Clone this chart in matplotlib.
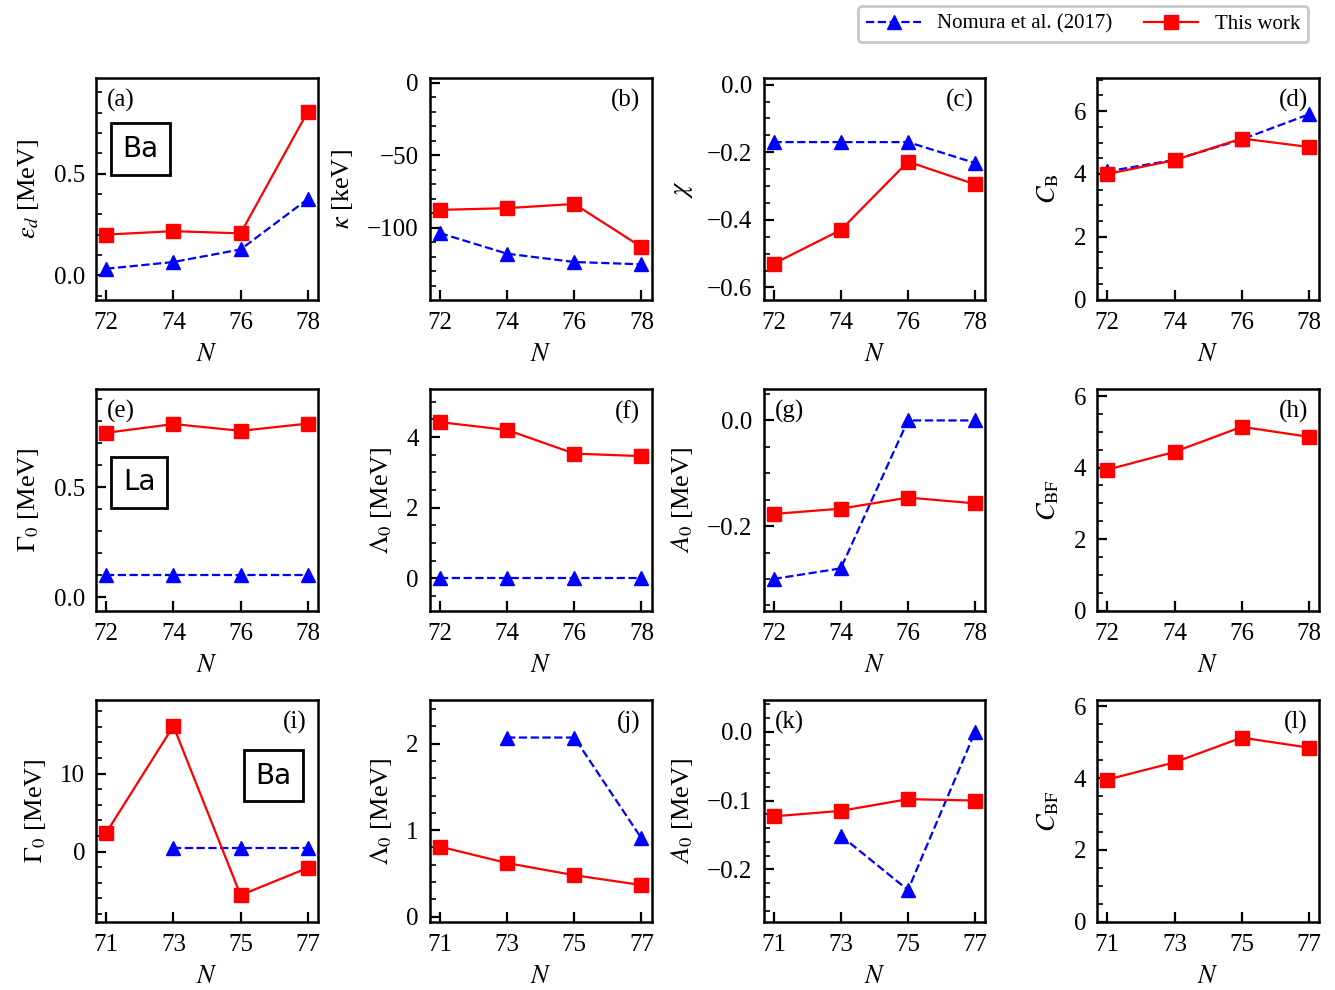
import matplotlib
matplotlib.use("Agg")
import matplotlib.pyplot as plt
import numpy as np
from matplotlib.ticker import AutoMinorLocator

plt.rcParams['font.family'] = ['Liberation Serif', 'DejaVu Serif']
plt.rcParams['mathtext.fontset'] = 'stix'
plt.rcParams['font.size'] = 18

#---------------- data
N_even = [72, 74, 76, 78]
N_odd = [71, 73, 75, 77]
nan = np.nan

eps_this = [0.20, 0.217, 0.206, 0.805]
eps_nom = [0.032, 0.065, 0.127, 0.375]
kap_this = [-87.7, -86.5, -83.6, -113.3]
kap_nom = [-103.7, -117.9, -123.6, -125.2]
chi_this = [-0.53, -0.43, -0.228, -0.295]
chi_nom = [-0.17, -0.17, -0.17, -0.232]
cb_this = [4.0, 4.44, 5.13, 4.86]
cb_nom = [4.08, 4.45, 5.1, 5.9]

gam_la_this = [0.748, 0.788, 0.757, 0.79]
gam_la_nom = [0.1, 0.1, 0.1, 0.1]
lam_la_this = [4.42, 4.20, 3.53, 3.46]
lam_la_nom = [0.0, 0.0, 0.0, 0.0]
a_la_this = [-0.177, -0.167, -0.146, -0.157]
a_la_nom = [-0.30, -0.28, 0.0, 0.0]
cbf_la_this = [3.94, 4.44, 5.14, 4.86]

gam_ba_this = [2.4, 16.1, -5.6, -2.1]
gam_ba_nom = [nan, 0.5, 0.5, 0.5]
lam_ba_this = [0.81, 0.62, 0.48, 0.366]
lam_ba_nom = [nan, 2.07, 2.07, 0.906]
a_ba_this = [-0.123, -0.115, -0.098, -0.100]
a_ba_nom = [nan, -0.151, -0.23, 0.0]
cbf_ba_this = [3.96, 4.44, 5.13, 4.85]

panels = [
    (N_even, eps_this, eps_nom, r'$\epsilon_d$ [MeV]', '(a)', 'l', (-0.12, 0.97)),
    (N_even, kap_this, kap_nom, r'$\kappa$ [keV]', '(b)', 'r', (-149.5, 3)),
    (N_even, chi_this, chi_nom, r'$\chi$', '(c)', 'r', (-0.636, 0.019)),
    (N_even, cb_this, cb_nom, r'$C_\mathrm{B}$', '(d)', 'r', (0, 7.05)),
    (N_even, gam_la_this, gam_la_nom, r'$\Gamma_0$ [MeV]', '(e)', 'l', (-0.06, 0.946)),
    (N_even, lam_la_this, lam_la_nom, r'$\mathit{\Lambda}_0$ [MeV]', '(f)', 'r', (-0.91, 5.35)),
    (N_even, a_la_this, a_la_nom, r'$A_0$ [MeV]', '(g)', 'l', (-0.36, 0.059)),
    (N_even, cbf_la_this, None, r'$C_\mathrm{BF}$', '(h)', 'r', (0, 6.19)),
    (N_odd, gam_ba_this, gam_ba_nom, r'$\Gamma_0$ [MeV]', '(i)', 'r', (-9.0, 19.4)),
    (N_odd, lam_ba_this, lam_ba_nom, r'$\mathit{\Lambda}_0$ [MeV]', '(j)', 'r', (-0.057, 2.5)),
    (N_odd, a_ba_this, a_ba_nom, r'$A_0$ [MeV]', '(k)', 'l', (-0.276, 0.0456)),
    (N_odd, cbf_ba_this, None, r'$C_\mathrm{BF}$', '(l)', 'r', (0, 6.17)),
]

#---------------- plot
fig, axes = plt.subplots(3, 4, figsize=(13.35, 9.9), dpi=100)
fig.subplots_adjust(left=0.072, right=0.988, top=0.921, bottom=0.069,
                    wspace=0.505, hspace=0.405)

for ax, (x, yt, yn, ylab, tag, side, ylim) in zip(axes.flat, panels):
    if yn is not None:
        ax.plot(x, yn, '--', color='blue', marker='^', ms=9.5, lw=1.6,
                label='Nomura et al. (2017)')
    ax.plot(x, yt, '-', color='red', marker='s', ms=9.5, lw=1.6, label='This work')
    ax.set_xticks(x)
    ax.set_ylim(ylim)
    ax.yaxis.set_minor_locator(AutoMinorLocator())
    ax.tick_params(which='both', direction='in', right=False, top=False)
    ax.tick_params(which='major', length=7, width=1.6, labelsize=18, pad=8)
    ax.tick_params(axis='x', which='major', pad=9)
    ax.tick_params(which='minor', length=4, width=1.2)
    ax.tick_params(axis='x', which='minor', bottom=False)
    for s in ax.spines.values():
        s.set_linewidth(1.8)
    ax.set_xlabel(r'$N$', fontsize=19, labelpad=7)
    ax.set_ylabel(ylab, fontsize=19, labelpad=9)
    if side == 'l':
        ax.text(0.05, 0.95, tag, transform=ax.transAxes, ha='left', va='top', fontsize=18)
    else:
        ax.text(0.95, 0.95, tag, transform=ax.transAxes, ha='right', va='top', fontsize=18)

box = dict(boxstyle='square,pad=0.42', fc='white', ec='black', lw=2)
axes[0, 0].text(0.20, 0.68, 'Ba', transform=axes[0, 0].transAxes, ha='center', va='center',
                fontsize=20, family='DejaVu Sans', bbox=box)
axes[1, 0].text(0.195, 0.58, 'La', transform=axes[1, 0].transAxes, ha='center', va='center',
                fontsize=20, family='DejaVu Sans', bbox=box)
axes[2, 0].text(0.80, 0.66, 'Ba', transform=axes[2, 0].transAxes, ha='center', va='center',
                fontsize=20, family='DejaVu Sans', bbox=box)

h, l = axes[0, 0].get_legend_handles_labels()
leg = fig.legend(h, l, loc='upper right', bbox_to_anchor=(0.98, 0.994), ncol=2,
                 fontsize=15, handlelength=2.6, columnspacing=1.5, borderaxespad=0,
                 fancybox=True, framealpha=1)
leg.get_frame().set_edgecolor('#c8c8c8')
leg.get_frame().set_linewidth(2)

fig.savefig('out.png', dpi=100)
